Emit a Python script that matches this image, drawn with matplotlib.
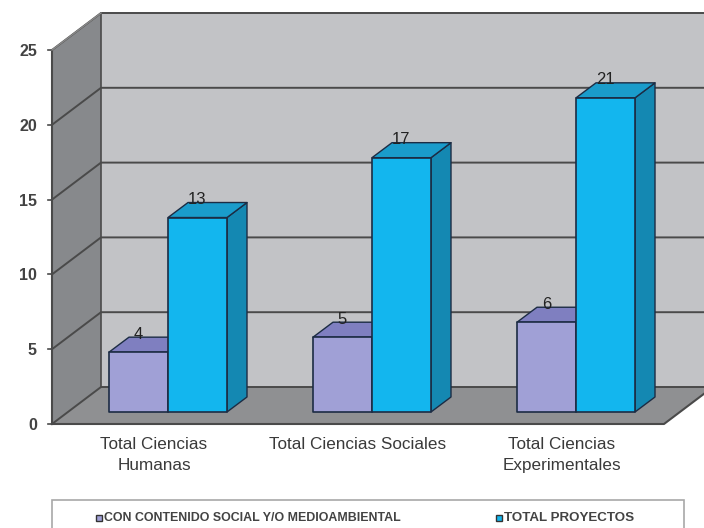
import matplotlib
matplotlib.use("Agg")
import matplotlib.pyplot as plt
from matplotlib.patches import Polygon, Rectangle

categories = ["Total Ciencias\nHumanas", "Total Ciencias Sociales", "Total Ciencias\nExperimentales"]
contenido = [4, 5, 6]
total = [13, 17, 21]
y_ticks = [0, 5, 10, 15, 20, 25]
legend_labels = ["CON CONTENIDO SOCIAL Y/O MEDIOAMBIENTAL", "TOTAL PROYECTOS"]

W, H = 704, 528
plt.rcParams['font.family'] = ['Liberation Sans', 'DejaVu Sans']
fig = plt.figure(figsize=(W/100, H/100), dpi=100, facecolor='white')
L, R, T, B = 52, 664, 50, 424
ax = fig.add_axes([L/W, 1-B/H, (R-L)/W, (B-T)/H])
ax.set_xlim(0, 3)
ax.set_ylim(0, 25)
ax.axis('off')
PX = 3/(R-L)
PY = 25/(B-T)
DX, DY = 49*PX, 37*PY     # wall depth
dX, dY = 20*PX, 15*PY     # bar depth
BX, BY = 0*PX, 12*PY      # bar offset from front
LINE = '#4a4a4a'
EDGE = '#1c2c44'

def poly(pts, fc, ec=LINE, lw=1.2, z=1):
    ax.add_patch(Polygon(pts, closed=True, fc=fc, ec=ec, lw=lw, zorder=z, clip_on=False, joinstyle='round'))

xmax = 3
# back wall, side wall, floor
poly([(DX, DY), (xmax+DX, DY), (xmax+DX, 25+DY), (DX, 25+DY)], '#c2c3c6', 'none', 0)
poly([(0, 0), (DX, DY), (DX, 25+DY), (0, 25)], '#87898c', 'none', 0)
poly([(0, 0), (xmax, 0), (xmax+DX, DY), (DX, DY)], '#8f9092', 'none', 0)

for t in y_ticks:
    ax.plot([0, DX, xmax+DX], [t, t+DY, t+DY], color=LINE, lw=1.4, zorder=2, clip_on=False)
    ax.plot([-4*PX, 0], [t, t], color=LINE, lw=1.2, zorder=2, clip_on=False)
    ax.text(-15*PX, t-1.5*PY, str(t), ha='right', va='center', fontsize=11.5, color='#222222',
            fontweight='bold', zorder=6, alpha=.85)
ax.plot([0, 0], [0, 25], color=LINE, lw=1.5, zorder=2, clip_on=False)
ax.plot([0, xmax, xmax+DX], [0, 0, DY], color=LINE, lw=1.5, zorder=2, clip_on=False)
ax.plot([DX, DX], [DY, 25+DY], color=LINE, lw=1.2, zorder=2, clip_on=False)
ax.plot([0, DX], [25, 25+DY], color='#8a8a8a', lw=1, zorder=2, clip_on=False)

def bar3d(x0, w, v, front, top, side, z):
    x0 += BX
    x1 = x0 + w
    poly([(x1, BY), (x1+dX, BY+dY), (x1+dX, v+BY+dY), (x1, v+BY)], side, EDGE, 1.0, z)
    poly([(x0, v+BY), (x1, v+BY), (x1+dX, v+BY+dY), (x0+dX, v+BY+dY)], top, EDGE, 1.0, z)
    poly([(x0, BY), (x1, BY), (x1, v+BY), (x0, v+BY)], front, EDGE, 1.2, z)
    ax.text(x0+w/2, v+BY+18*PY, str(v), ha='center', va='center', fontsize=12, color='#222222', zorder=8)

off, bw = 57*PX, 59*PX
for i, (a, b) in enumerate(zip(contenido, total)):
    bar3d(i+off, bw, a, '#a0a0d6', '#7f7fc0', '#6e6eaa', 4)
    bar3d(i+off+bw, bw, b, '#13b6ee', '#1a9ccb', '#1488b2', 5)
    ax.text(i+0.5, -13*PY, categories[i], ha='center', va='top', fontsize=12.3, color='#3a3a3a',
            linespacing=1.5, zorder=6)

# legend
fig.add_artist(Rectangle((52/W, 1-531/H), 632/W, 31/H, transform=fig.transFigure, fc='white', ec='#a8a8a8', lw=1.2))
lx = [96, 496]
sizes = [8.9, 9.6]
colors = ['#a0a0d6', '#13b6ee']
for x, lab, c, s in zip(lx, legend_labels, colors, sizes):
    fig.add_artist(Rectangle((x/W, 1-521/H), 6/W, 6/H, transform=fig.transFigure, fc=c, ec='#333333', lw=1.0))
    fig.text((x+8)/W, 1-518/H, lab, ha='left', va='center', fontsize=s, color='#222222', fontweight='bold', alpha=.85)

fig.savefig('out.png', dpi=100, facecolor='white')
